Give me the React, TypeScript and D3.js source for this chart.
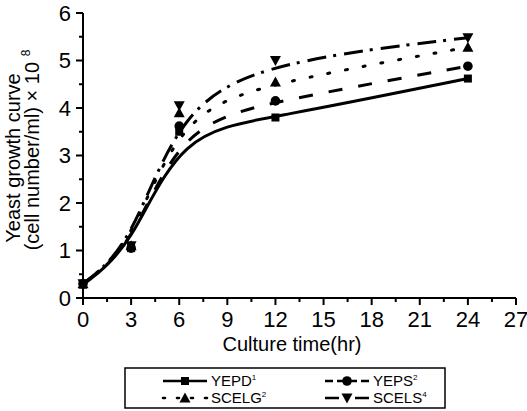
import React from "react";
import * as d3 from "d3";

const hours = [0, 3, 6, 12, 24];
const yepd = [0.28, 1.05, 3.5, 3.8, 4.62];
const yeps = [0.3, 1.05, 3.62, 4.15, 4.88];
const scelg = [0.3, 1.1, 3.9, 4.55, 5.28];
const scels = [0.3, 1.1, 4.05, 5.0, 5.48];
const seriesNames = ["YEPD", "YEPS", "SCELG", "SCELS"];
const seriesSup = ["1", "2", "2", "4"];
const xTicks = [0, 3, 6, 9, 12, 15, 18, 21, 24, 27];
const yTicks = [0, 1, 2, 3, 4, 5, 6];

const W = 527, H = 411;
const font = "Liberation Sans, Arial, sans-serif";

function Marker({ kind, x, y }: { kind: string; x: number; y: number }) {
  if (kind === "square") return <rect x={x - 4} y={y - 4} width={8} height={8} fill="#000" />;
  if (kind === "circle") return <circle cx={x} cy={y} r={4.8} fill="#000" />;
  if (kind === "up") return <path d={`M${x},${y - 5.5}L${x + 5.5},${y + 4.5}L${x - 5.5},${y + 4.5}Z`} fill="#000" />;
  return <path d={`M${x},${y + 5.5}L${x + 5.5},${y - 4.5}L${x - 5.5},${y - 4.5}Z`} fill="#000" />;
}

export default function App() {
  const x = d3.scaleLinear().domain([0, 27]).range([83, 516]);
  const y = d3.scaleLinear().domain([0, 6]).range([298, 13]);
  const data = [yepd, yeps, scelg, scels];
  const markers = ["square", "circle", "up", "down"];
  const dashes = ["none", "14,16", "2,16", "19,7,3,8"];
  const line = d3
    .line<number>()
    .x((_, i) => x(hours[i]))
    .y((d) => y(d))
    .curve(d3.curveBasis);

  const minorY = d3.range(0, 6.01, 0.5);
  const minorX = d3.range(0, 27.01, 1.5);

  const legendItems = [
    { i: 0, lx: 163, ly: 381 },
    { i: 1, lx: 325, ly: 381 },
    { i: 2, lx: 163, ly: 398 },
    { i: 3, lx: 325, ly: 398 },
  ];
  const legendDashes = ["none", "8,4", "2,12", "14,6,4,6"];

  return (
    <svg width={W} height={H} style={{ position: "absolute", left: 0, top: 0, background: "#fff" }} fontFamily={font}>
      {/* axes */}
      <line x1={x(0)} x2={x(0)} y1={y(6)} y2={y(0)} stroke="#000" strokeWidth={2} />
      <line x1={x(0)} x2={x(27)} y1={y(0)} y2={y(0)} stroke="#000" strokeWidth={2} />
      {minorY.map((v) => (
        <line key={"my" + v} x1={x(0) - (Number.isInteger(v) ? 7 : 4)} x2={x(0)} y1={y(v)} y2={y(v)} stroke="#000" strokeWidth={2} />
      ))}
      {minorX.map((v) => (
        <line key={"mx" + v} x1={x(v)} x2={x(v)} y1={y(0)} y2={y(0) + (v % 3 === 0 ? 7 : 4)} stroke="#000" strokeWidth={2} />
      ))}
      {yTicks.map((v) => (
        <text key={"yt" + v} x={x(0) - 12} y={y(v)} dy="0.36em" textAnchor="end" fontSize={22}>{v}</text>
      ))}
      {xTicks.map((v) => (
        <text key={"xt" + v} x={x(v)} y={y(0) + 29} textAnchor="middle" fontSize={22}>{v}</text>
      ))}
      <text x={292} y={351} textAnchor="middle" fontSize={20}>Culture time(hr)</text>
      <g transform="translate(20,158) rotate(-90)">
        <text x={0} y={0} textAnchor="middle" fontSize={20}>Yeast growth curve</text>
      </g>
      <g transform="translate(39,150) rotate(-90)">
        <text x={0} y={0} textAnchor="middle" fontSize={20}>
          (cell number/ml) × 10 <tspan dy={-9} fontSize={12}>8</tspan>
        </text>
      </g>

      {/* lines */}
      {data.map((d, i) => (
        <path key={"l" + i} d={line(d) || ""} fill="none" stroke="#000" strokeWidth={3}
          strokeDasharray={dashes[i]} strokeLinecap={i === 2 ? "round" : "butt"} />
      ))}
      {data.map((d, i) =>
        d.map((v, j) => <Marker key={"m" + i + "-" + j} kind={markers[i]} x={x(hours[j])} y={y(v)} />)
      )}

      {/* legend */}
      <rect x={125} y={368} width={320} height={40} fill="none" stroke="#000" strokeWidth={1.5} />
      {legendItems.map(({ i, lx, ly }) => (
        <g key={"lg" + i}>
          <line x1={lx} x2={lx + 44} y1={ly} y2={ly} stroke="#000" strokeWidth={2.6}
            strokeDasharray={legendDashes[i]} strokeLinecap={i === 2 ? "round" : "butt"} />
          <Marker kind={markers[i]} x={lx + 22} y={ly} />
          <text x={lx + 48} y={ly} dy="0.36em" fontSize={15}>
            {seriesNames[i]}<tspan dy={-6} fontSize={8}>{seriesSup[i]}</tspan>
          </text>
        </g>
      ))}
    </svg>
  );
}
